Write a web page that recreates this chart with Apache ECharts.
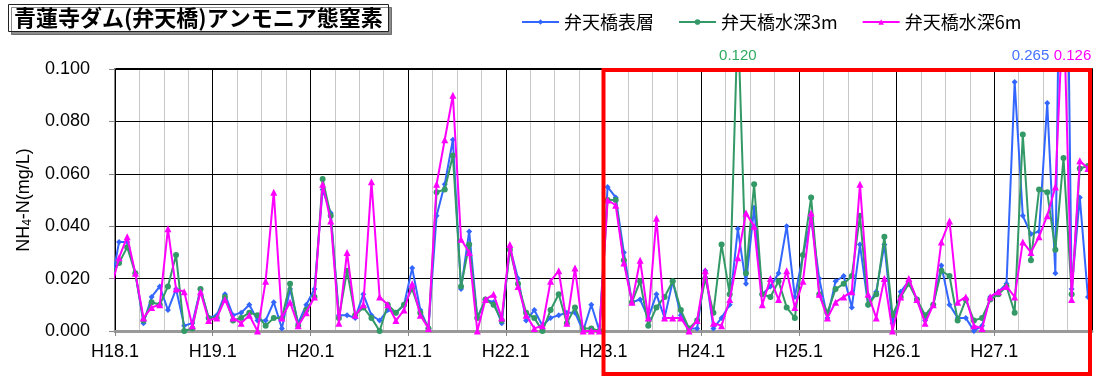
<!DOCTYPE html>
<html><head><meta charset="utf-8">
<script src="https://cdn.jsdelivr.net/npm/echarts@6/dist/echarts.min.js"></script>
<style>html,body{margin:0;padding:0;background:#fff}#c{width:1101px;height:376px}</style>
</head><body><div id="c"></div>
<script>
// ---- data (mg/L), monthly from H18.1 to H27.12 ----
const titleText = '青蓮寺ダム(弁天橋)アンモニア態窒素';
const seriesNames = ['弁天橋表層', '弁天橋水深3m', '弁天橋水深6m'];
const yearLabels = ['H18.1','H19.1','H20.1','H21.1','H22.1','H23.1','H24.1','H25.1','H26.1','H27.1'];
// value of H17.12 (only the clipped line segment entering the plot is visible)
const prevMonth = [0.017, 0.021, 0.016];
const surface = [
 0.034,0.034,0.022,0.003,0.013,0.017,0.008,0.016,0.002,0.003,0.016,0.005,
 0.006,0.014,0.006,0.007,0.010,0.004,0.004,0.011,0.001,0.016,0.003,0.010,
 0.016,0.054,0.045,0.006,0.006,0.005,0.014,0.006,0.004,0.008,0.007,0.010,
 0.024,0.008,0.001,0.044,0.056,0.073,0.016,0.038,0.005,0.012,0.011,0.003,
 0.032,0.020,0.004,0.008,0.002,0.005,0.006,0.007,0.007,0.000,0.010,0.000,
 0.055,0.051,0.030,0.011,0.012,0.005,0.014,0.005,0.019,0.006,0.001,0.001,
 0.023,0.001,0.005,0.010,0.039,0.018,0.047,0.014,0.017,0.022,0.040,0.013,
 0.029,0.043,0.020,0.005,0.019,0.021,0.009,0.033,0.010,0.015,0.033,0.003,
 0.015,0.019,0.012,0.004,0.010,0.025,0.010,0.005,0.005,0.000,0.002,0.013,
 0.015,0.018,0.095,0.044,0.037,0.038,0.087,0.022,0.265,0.016,0.051,0.013];
const depth3m = [
 0.026,0.032,0.022,0.004,0.011,0.010,0.017,0.029,0.000,0.001,0.016,0.005,
 0.005,0.013,0.004,0.005,0.007,0.006,0.002,0.005,0.005,0.018,0.002,0.008,
 0.013,0.058,0.044,0.005,0.023,0.006,0.009,0.005,0.000,0.010,0.007,0.010,
 0.016,0.007,0.001,0.053,0.054,0.067,0.017,0.033,0.005,0.012,0.010,0.004,
 0.031,0.018,0.007,0.005,0.000,0.008,0.014,0.003,0.009,0.001,0.001,0.000,
 0.050,0.050,0.027,0.011,0.019,0.002,0.009,0.013,0.019,0.008,0.001,0.004,
 0.020,0.007,0.033,0.014,0.120,0.022,0.056,0.014,0.013,0.019,0.009,0.005,
 0.029,0.051,0.014,0.007,0.016,0.018,0.021,0.044,0.010,0.014,0.036,0.006,
 0.013,0.018,0.012,0.006,0.010,0.023,0.021,0.004,0.012,0.004,0.005,0.012,
 0.014,0.017,0.007,0.075,0.027,0.054,0.053,0.031,0.066,0.014,0.062,0.063];
const depth6m = [
 0.028,0.036,0.022,0.005,0.009,0.010,0.039,0.016,0.015,0.002,0.015,0.004,
 0.005,0.012,0.005,0.003,0.006,0.000,0.019,0.053,0.005,0.011,0.002,0.007,
 0.013,0.056,0.042,0.003,0.030,0.006,0.010,0.057,0.013,0.010,0.004,0.008,
 0.018,0.006,0.001,0.056,0.073,0.090,0.035,0.030,0.000,0.012,0.014,0.005,
 0.033,0.017,0.006,0.001,0.002,0.019,0.023,0.003,0.024,0.000,0.000,0.000,
 0.050,0.048,0.026,0.011,0.027,0.005,0.043,0.005,0.005,0.005,0.000,0.004,
 0.023,0.003,0.002,0.012,0.028,0.045,0.040,0.010,0.020,0.012,0.023,0.009,
 0.019,0.045,0.014,0.005,0.011,0.013,0.015,0.056,0.014,0.005,0.020,0.000,
 0.013,0.020,0.012,0.003,0.010,0.034,0.042,0.011,0.013,0.002,0.001,0.013,
 0.015,0.017,0.013,0.034,0.030,0.036,0.044,0.055,0.126,0.012,0.065,0.062];
const yMax = 0.1;
const highlightStartYear = 'H23.1';

// ---- chart ----
const FONT = '"Liberation Sans", Arial, sans-serif';
const JP = '"Noto Sans CJK JP", sans-serif';
const colors = ['#3366FF', '#339966', '#FF00FF'];
const labelColors = ['#4472FF', '#2EAA60', '#FF00FF'];
const symbols = ['diamond', 'circle', 'triangle'];
const symbolSizes = [6, 6, 7];
const overLabelDx = [-33, 0, 9];
const dataSets = [surface, depth3m, depth6m];

function toPoints(prev, arr) {
  const pts = [[-0.5, prev]];
  arr.forEach((v, i) => pts.push([i + 0.5, v]));
  return pts;
}

const chart = echarts.init(document.getElementById('c'));
const series = dataSets.map((arr, k) => ({
  name: seriesNames[k],
  type: 'line',
  xAxisIndex: 0,
  data: toPoints(prevMonth[k], arr),
  color: colors[k],
  symbol: symbols[k],
  symbolSize: symbolSizes[k],
  showAllSymbol: true,
  lineStyle: { width: 2 },
  clip: true,
  z: 5 + k,
  animation: false,
  markPoint: {
    symbol: 'circle', symbolSize: 0, animation: false,
    data: arr.map((v, i) => v > yMax ? { coord: [i + 0.5, yMax], value: v } : null).filter(Boolean),
    label: {
      show: true, position: 'inside', offset: [overLabelDx[k], -13],
      formatter: p => p.value.toFixed(3),
      color: labelColors[k], fontSize: 15, fontFamily: FONT
    }
  }
}));

chart.setOption({
  animation: false,
  backgroundColor: '#fff',
  title: {
    text: titleText, left: 8, top: 4,
    padding: [3, 6, 3, 6],
    backgroundColor: '#fff', borderColor: '#222', borderWidth: 1,
    shadowColor: 'rgba(0,0,0,0.45)', shadowOffsetX: 3, shadowOffsetY: 3, shadowBlur: 0,
    textStyle: { fontSize: 22, fontWeight: 'bold', fontFamily: JP, color: '#000' }
  },
  legend: {
    data: seriesNames, left: 521, top: 13, padding: 0,
    itemWidth: 37, itemHeight: 7, itemGap: 24,
    textStyle: { fontSize: 18, fontFamily: JP, color: '#000' }
  },
  grid: { left: 115, right: 9, top: 69, bottom: 45, containLabel: false },
  xAxis: [{
    type: 'value', min: 0, max: 120, interval: 12, position: 'bottom', z: 2,
    axisLine: { show: true, lineStyle: { color: '#999', width: 3 } },
    axisTick: { show: true, length: 5, lineStyle: { color: '#888' } },
    axisLabel: {
      fontSize: 18, fontFamily: FONT, color: '#000', margin: 12, showMaxLabel: false,
      formatter: v => yearLabels[Math.round(v / 12)] || ''
    },
    splitLine: { show: true, lineStyle: { color: '#000', width: 1 } }
  }, {
    type: 'value', min: 0, max: 120, interval: 3, position: 'top', z: 0,
    axisLine: { show: true, lineStyle: { color: '#000', width: 2 } },
    axisTick: { show: false }, axisLabel: { show: false },
    splitLine: { show: true, lineStyle: { color: '#c8c8c8', width: 1 } }
  }],
  yAxis: {
    type: 'value', min: 0, max: yMax, interval: 0.02, z: 1,
    name: 'NH{s|4}-N(mg/L)', nameLocation: 'middle', nameRotate: 90, nameGap: 85,
    nameTextStyle: {
      fontSize: 18, fontFamily: FONT, color: '#000', lineHeight: 20, verticalAlign: 'middle',
      rich: { s: { fontSize: 12, fontFamily: FONT, color: '#000', lineHeight: 20, verticalAlign: 'bottom', padding: [8, 0, 0, 0] } }
    },
    axisLine: { show: true, lineStyle: { color: '#888', width: 2 } },
    axisTick: { show: true, length: 6, lineStyle: { color: '#888' } },
    axisLabel: { fontSize: 18, fontFamily: FONT, color: '#000', margin: 25, formatter: v => v.toFixed(3) },
    splitLine: { show: true, lineStyle: { color: '#000', width: 1 } }
  },
  series: series
});

// red highlight frame from H23.1 to the end of the axis
const startIdx = yearLabels.indexOf(highlightStartYear) * 12;
const p0 = chart.convertToPixel({ gridIndex: 0 }, [startIdx, yMax]);
const p1 = chart.convertToPixel({ gridIndex: 0 }, [120, 0]);
chart.setOption({
  graphic: [{
    type: 'rect', z: 100, silent: true,
    shape: { x: p0[0], y: p0[1] + 1, width: p1[0] - p0[0] - 2, height: chart.getHeight() - p0[1] - 3 },
    style: { fill: 'none', stroke: '#FF0000', lineWidth: 4 }
  }]
});
</script>
</body></html>
